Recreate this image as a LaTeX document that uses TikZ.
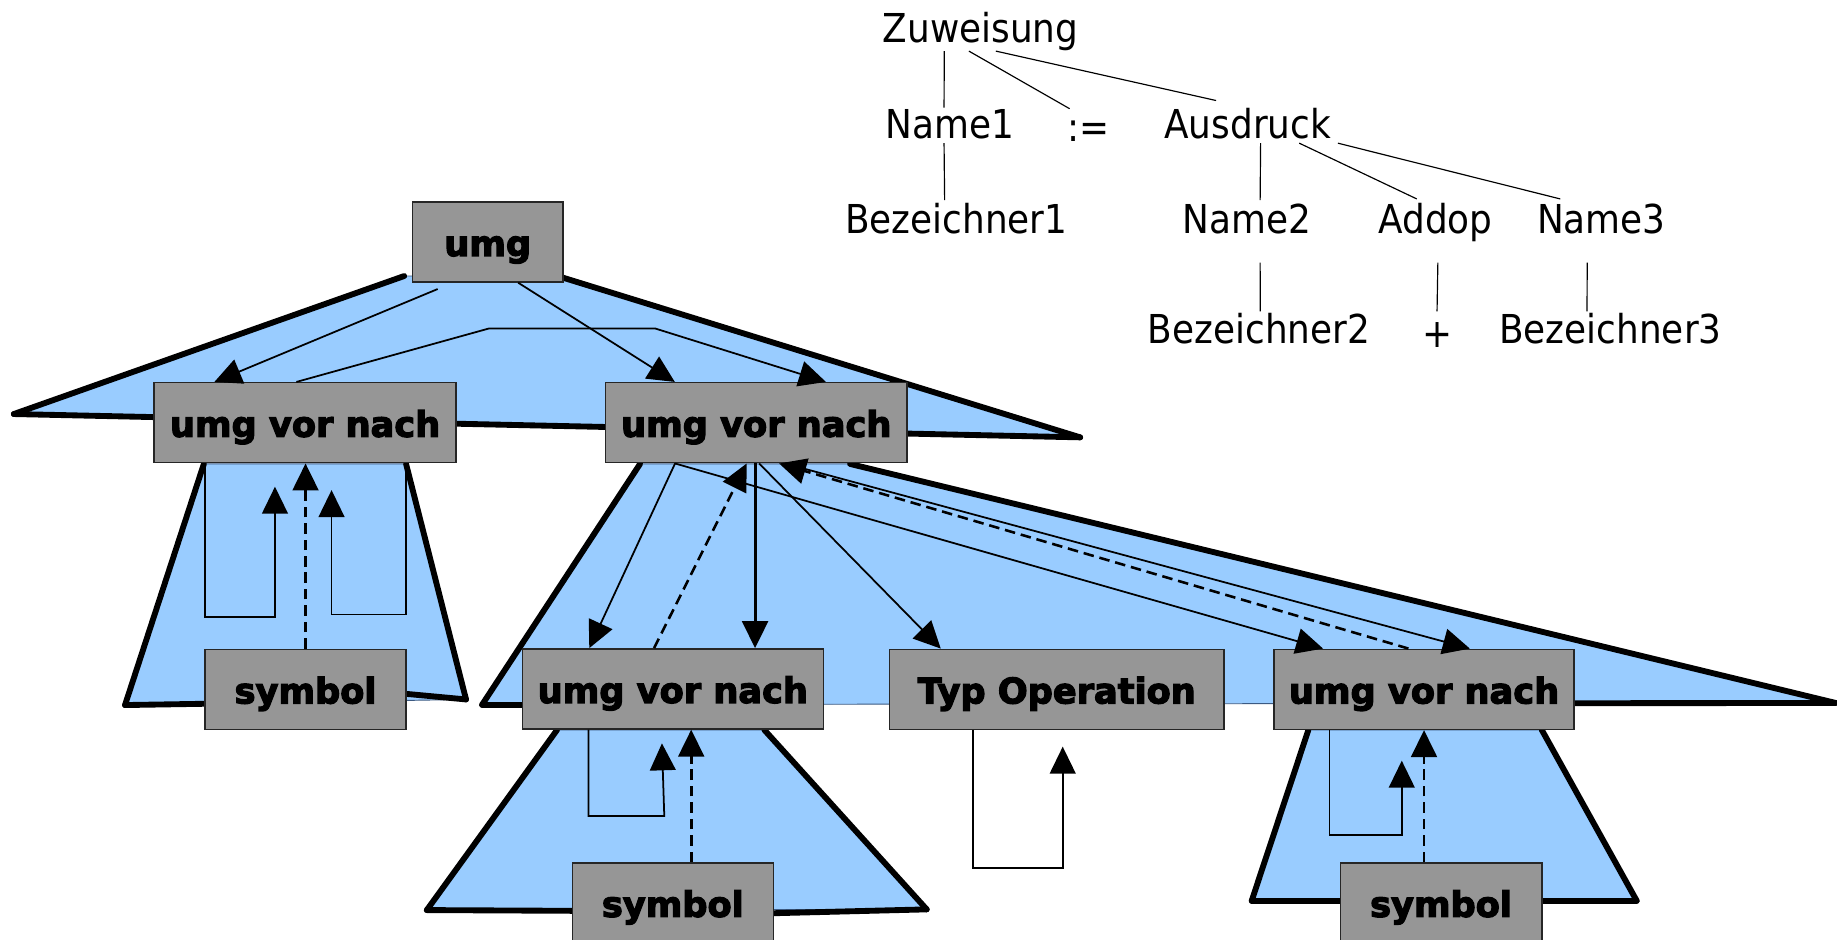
\documentclass[tikz,border=0pt]{standalone}
\usepackage{fontspec}
\usetikzlibrary{arrows.meta,calc}
\newfontfamily\treefont[FakeStretch=0.9]{DejaVu Sans}
\newfontfamily\boxfont[FakeBold=3.5]{DejaVu Sans Bold}
\definecolor{paneblue}{RGB}{153,204,255}
\definecolor{boxgray}{RGB}{150,150,150}
\definecolor{paneedge}{RGB}{60,90,130}

\begin{document}
\begin{tikzpicture}[x=1pt,y=-1pt,
  box/.style={draw=black!85, line width=1.3pt, fill=boxgray, inner sep=0pt,
    minimum height=68.3pt, text height=24pt, text depth=0pt,
    font=\boxfont\fontsize{30}{36}\selectfont},
  word/.style={anchor=base, inner sep=0pt, text height=26pt, text depth=8pt,
    font=\treefont\fontsize{34}{40}\selectfont},
  branch/.style={line width=1pt},
  pane/.style={fill=paneblue, draw=paneedge, line width=0.8pt, line join=round},
  rim/.style={line width=5pt, line cap=round, line join=round},
  flow/.style={line width=1.5pt, -{Triangle[length=23pt,width=22pt]}},
  back/.style={flow, line width=2.2pt, dash pattern=on 9pt off 5pt},
]
\fill[white] (0,0) rectangle (1568,801.5);
\useasboundingbox (0,0) rectangle (1568,801.5);

% ---- derivation tree (top right) ----
\node[word] (zu)  at (837,36.4)   {Zuweisung};
\node[word] (na1) at (810.8,118)  {Name1};
\node[word] (asg) at (929,121)    {:=};
\node[word] (aus) at (1065,118)   {Ausdruck};
\node[word] (bz1) at (816.3,199)  {Bezeichner1};
\node[word] (na2) at (1064.6,199) {Name2};
\node[word] (add) at (1225.3,199) {Addop};
\node[word] (na3) at (1366.8,199) {Name3};
\node[word] (bz2) at (1074.7,293) {Bezeichner2};
\node[word] (pls) at (1226.6,297) {+};
\node[word] (bz3) at (1374.6,293) {Bezeichner3};

\draw[branch] ($(zu.south)+(-31,-1)$) -- ($(na1.north)+(-5,0)$);
\draw[branch] ($(zu.south)+(-10,-1)$) -- ($(asg.north)+(-16,-2)$);
\draw[branch] ($(zu.south)+(13,-1)$)  -- ($(aus.north)+(-27,-6)$);
\draw[branch] ($(na1.south)+(-5,-4)$) -- ($(bz1.north)+(-10,-2)$);
\draw[branch] ($(aus.south)+(11,-4)$) -- ($(na2.north)+(11,-2)$);
\draw[branch] ($(aus.south)+(44,-4)$) -- ($(add.north)+(-16,-3)$);
\draw[branch] ($(aus.south)+(77,-4)$) -- ($(na3.north)+(-35,-3)$);
\draw[branch] ($(na2.south)+(11,17)$) -- ($(bz2.north)+(1,-1)$);
\draw[branch] ($(add.south)+(2,17)$)  -- ($(pls.north)+(0,-5)$);
\draw[branch] ($(na3.south)+(-12,17)$) -- ($(bz3.north)+(-20,-1)$);

% ---- attribute panes ----
% pane below umg
\filldraw[pane] (11.8,353.4) -- (345,235.6) -- (476,235.6) -- (922,373.3) -- cycle;
\draw[rim] (11.8,353.4) -- (345,235.6);
\draw[rim] (476,235.6) -- (922,373.3);
\draw[rim] (11.8,353.4) -- (922,373.3);
% pane below the left umg vor nach
\filldraw[pane] (174,396) -- (346.6,396) -- (397.8,597) -- (106.7,601.8) -- cycle;
\draw[rim] (174,396) -- (106.7,601.8);
\draw[rim] (346.6,396) -- (397.8,597);
\draw[rim] (106.7,601.8) -- (200,600.3);
\draw[rim] (330,590.7) -- (397.8,597);
% pane below the middle umg vor nach
\filldraw[pane] (546.3,396) -- (725.6,396) -- (1566.8,600) -- (411.5,601.5) -- cycle;
\draw[rim] (546.3,396) -- (411.5,601.5);
\draw[rim] (725.6,396) -- (1566.8,600);
\draw[rim] (411.5,601.5) -- (480,601.5);
\draw[rim] (1300,600.3) -- (1566.8,600);
% pane below the lower left umg vor nach
\filldraw[pane] (475.5,623) -- (652.4,623) -- (791,776.2) -- (364.3,776.8) -- cycle;
\draw[rim] (475.5,623) -- (364.3,776.8);
\draw[rim] (652.4,623) -- (791,776.2);
\draw[rim] (364.3,776.8) -- (500,777.5);
\draw[rim] (640,780) -- (791,776.2);
% pane below the lower right umg vor nach
\filldraw[pane] (1116.8,623) -- (1316,623) -- (1397,768.8) -- (1068.4,768.8) -- cycle;
\draw[rim] (1116.8,623) -- (1068.4,768.8);
\draw[rim] (1316,623) -- (1397,768.8);
\draw[rim] (1068.4,768.8) -- (1160,768.8);
\draw[rim] (1300,768.8) -- (1397,768.8);

% ---- attribute boxes ----
\node[box, minimum width=128.6pt] (umg)  at (416.3,206.5) {umg};
\node[box, minimum width=257.6pt] (vl)   at (260.4,360.8) {umg vor nach};
\node[box, minimum width=257pt]   (vm)   at (645.5,360.8) {umg vor nach};
\node[box, minimum width=257pt]   (vbl)  at (574.3,588)   {umg vor nach};
\node[box, minimum width=285.7pt] (typ)  at (902,588.4)   {Typ Operation};
\node[box, minimum width=256pt]   (vbr)  at (1215.5,588.4) {umg vor nach};
\node[box, minimum width=171.6pt] (syl)  at (260.8,588.4) {symbol};
\node[box, minimum width=171.5pt] (sybl) at (574.3,770.6) {symbol};
\node[box, minimum width=172pt]   (sybr) at (1230,770.6)  {symbol};

% ---- attribute flow ----
\coordinate (kneeA) at (417.6,280.3);
\coordinate (kneeB) at (559,280.3);
\draw[flow] ($(umg.south)+(-42.7,5.4)$) -- ($(vl.north)+(-77.4,0)$);
\draw[flow] ($(vl.north)+(-7.4,0)$) -- (kneeA) -- (kneeB) -- ($(vm.north)+(59.5,0)$);
\draw[flow] ($(umg.south)+(26,0)$) -- ($(vm.north)+(-69.5,0)$);

\draw[flow] ($(vm.south)+(-69.3,0)$) -- ($(vbl.north)+(-71.3,0)$);
\draw[back] ($(vbl.north)+(-16,0)$) -- ($(vm.south)+(-8.2,0)$);
\draw[flow, line width=2.6pt] ($(vm.south)+(-1,0)$) -- ($(vbl.north)+(70.2,0)$);
\draw[flow] ($(vm.south)+(2.5,0)$) -- ($(typ.north)+(-99,0)$);
\draw[flow] ($(vm.south)+(-69.3,0)$) -- ($(vbr.north)+(-86.2,0)$);
\draw[back] ($(vbr.north)+(-13.3,0)$) -- ($(vm.south)+(19.5,0)$);
\draw[flow] ($(vm.south)+(24.5,0)$) -- ($(vbr.north)+(39.1,0)$);

% loops inside the left pane
\coordinate (la1) at (175,526.4);   \coordinate (la2) at (234.7,526.4); \coordinate (la3) at (234.7,415.4);
\coordinate (lb1) at (346.5,524.6); \coordinate (lb2) at (283,524.6);   \coordinate (lb3) at (283,418.3);
\draw[flow] ($(vl.south)+(-85.4,0)$) -- (la1) -- (la2) -- (la3);
\draw[flow] ($(vl.south)+(86.1,0)$) -- (lb1) -- (lb2) -- (lb3);
\draw[back] (syl.north) -- (syl.north |- vl.south);

% loop inside the lower left pane
\coordinate (ma1) at (502.4,696.5); \coordinate (ma2) at (567,696.5); \coordinate (ma3) at (565,634.5);
\draw[flow] ($(vbl.south)+(-71.9,0)$) -- (ma1) -- (ma2) -- (ma3);
\draw[back] ($(sybl.north)+(15.7,0)$) -- ($(vbl.south)+(15.7,0)$);

% loop below Typ Operation
\coordinate (ta1) at (830.3,741.2); \coordinate (ta2) at (907.1,741.2); \coordinate (ta3) at (907.1,637.3);
\draw[flow] ($(typ.south)+(-71.7,0)$) -- (ta1) -- (ta2) -- (ta3);

% loop inside the lower right pane
\coordinate (ra1) at (1134.7,712.8); \coordinate (ra2) at (1196.5,712.8); \coordinate (ra3) at (1196.5,649.3);
\draw[flow] ($(vbr.south)+(-80.8,0)$) -- (ra1) -- (ra2) -- (ra3);
\draw[back] ($(sybr.north)+(-14.5,0)$) -- (vbr.south);
\end{tikzpicture}
\end{document}
